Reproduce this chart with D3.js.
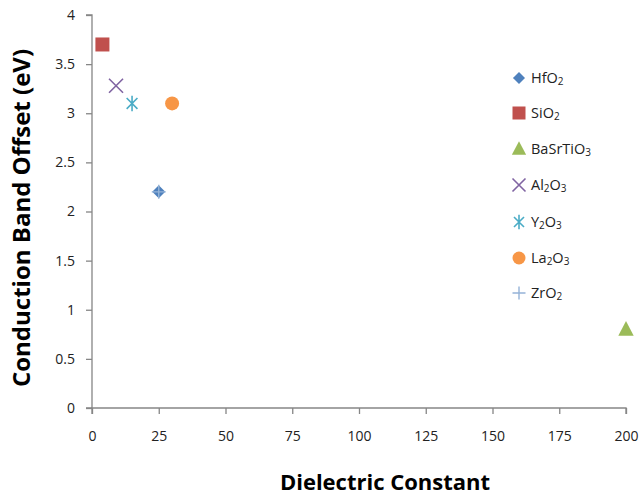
<!DOCTYPE html>
<html><head><meta charset="utf-8">
<script src="https://cdn.jsdelivr.net/npm/d3@7"></script>
<style>body{margin:0;background:#fff}text{font-family:"Open Sans","Liberation Sans",sans-serif}</style>
</head><body>
<svg id="c" width="640" height="499"></svg>
<script>
const names = ["HfO2","SiO2","BaSrTiO3","Al2O3","Y2O3","La2O3","ZrO2"];
const labelParts = [[["Hf",0],["O",0],["2",1]],[["Si",0],["O",0],["2",1]],[["BaSrTi",0],["O",0],["3",1]],[["Al",0],["2",1],["O",0],["3",1]],[["Y",0],["2",1],["O",0],["3",1]],[["La",0],["2",1],["O",0],["3",1]],[["Zr",0],["O",0],["2",1]]];
const dielectric = [25, 3.9, 200, 9, 15, 30, 25];
const offset = [2.2, 3.7, 0.8, 3.28, 3.1, 3.1, 2.2];
const colors = ["#4F81BD","#C0504D","#9BBB59","#8064A2","#4BACC6","#F79646","#95B3D7"];
const xTicks = [0,25,50,75,100,125,150,175,200];
const yTicks = [0,0.5,1,1.5,2,2.5,3,3.5,4];

const svg = d3.select("#c");
const x = d3.scaleLinear().domain([0,200]).range([92,626]);
const y = d3.scaleLinear().domain([0,4]).range([408,15]);
const axisColor = "#868686";

const gx = svg.append("g").attr("transform","translate(0,408)")
  .call(d3.axisBottom(x).tickValues(xTicks).tickSize(6).tickPadding(17).tickFormat(d3.format("d")));
const gy = svg.append("g").attr("transform","translate(92,0)")
  .call(d3.axisLeft(y).tickValues(yTicks).tickSize(6).tickPadding(11).tickFormat(d=>String(d)));
[gx,gy].forEach(g=>{
  g.selectAll("path").attr("stroke",axisColor).attr("stroke-width",1.3);
  g.selectAll("line").attr("stroke",axisColor).attr("stroke-width",1.3);
  g.selectAll("text").attr("font-size",14).attr("fill","#222");
});
gx.select(".domain").attr("d","M92,6V0H626V6");
gy.select(".domain").attr("d","M-6,15H0V408H-6");

function drawMarker(g, i, cx, cy, s){
  const c = colors[i];
  if(i===0){ g.append("path").attr("d",d3.symbol(d3.symbolDiamond2, s*s*0.55)()).attr("transform",`translate(${cx},${cy})`).attr("fill",c); }
  else if(i===1){ g.append("rect").attr("x",cx-s/2).attr("y",cy-s/2).attr("width",s).attr("height",s).attr("fill",c); }
  else if(i===2){ g.append("path").attr("d",`M${cx},${cy-s*0.6}L${cx+s*0.55},${cy+s*0.45}L${cx-s*0.55},${cy+s*0.45}Z`).attr("fill",c); }
  else if(i===3){ const r=s*0.5; g.append("path").attr("d",`M${cx-r},${cy-r}L${cx+r},${cy+r}M${cx-r},${cy+r}L${cx+r},${cy-r}`).attr("stroke",c).attr("stroke-width",1.6).attr("fill","none"); }
  else if(i===4){ const r=s*0.55; const d=r*0.7; g.append("path").attr("d",`M${cx},${cy-r}V${cy+r}M${cx-d},${cy-d}L${cx+d},${cy+d}M${cx-d},${cy+d}L${cx+d},${cy-d}`).attr("stroke",c).attr("stroke-width",1.6).attr("fill","none"); }
  else if(i===5){ g.append("circle").attr("cx",cx).attr("cy",cy).attr("r",s*0.5).attr("fill",c); }
  else if(i===6){ const r=s*0.5; g.append("path").attr("d",`M${cx-r},${cy}H${cx+r}M${cx},${cy-r}V${cy+r}`).attr("stroke",c).attr("stroke-width",1.4).attr("fill","none"); }
}

const pts = svg.append("g");
names.forEach((n,i)=>{
  drawMarker(pts, i, x(dielectric[i]), y(offset[i]), 14);
});

const legY = [78,113,149,185,222,258,293];
const leg = svg.append("g");
names.forEach((n,i)=>{
  drawMarker(leg, i, 519, legY[i], 13);
  const t = leg.append("text").attr("x",531).attr("y",legY[i]+5).attr("font-size",14.5).attr("fill","#222");
  let prevSub = 0;
  labelParts[i].forEach(([s,sub])=>{
    const ts = t.append("tspan").text(s);
    if(sub){ ts.attr("font-size",10).attr("dy", prevSub ? 0 : 2); }
    else { ts.attr("dy", prevSub ? -2 : 0); }
    prevSub = sub;
  });
});

svg.append("text").attr("x",385).attr("y",490).attr("text-anchor","middle")
  .attr("font-size",22).attr("font-weight","bold").attr("fill","#000").text("Dielectric Constant");
svg.append("text").attr("transform","translate(30,218) rotate(-90)").attr("text-anchor","middle")
  .attr("font-size",24).attr("font-weight","bold").attr("fill","#000").text("Conduction Band Offset (eV)");
</script>
</body></html>
